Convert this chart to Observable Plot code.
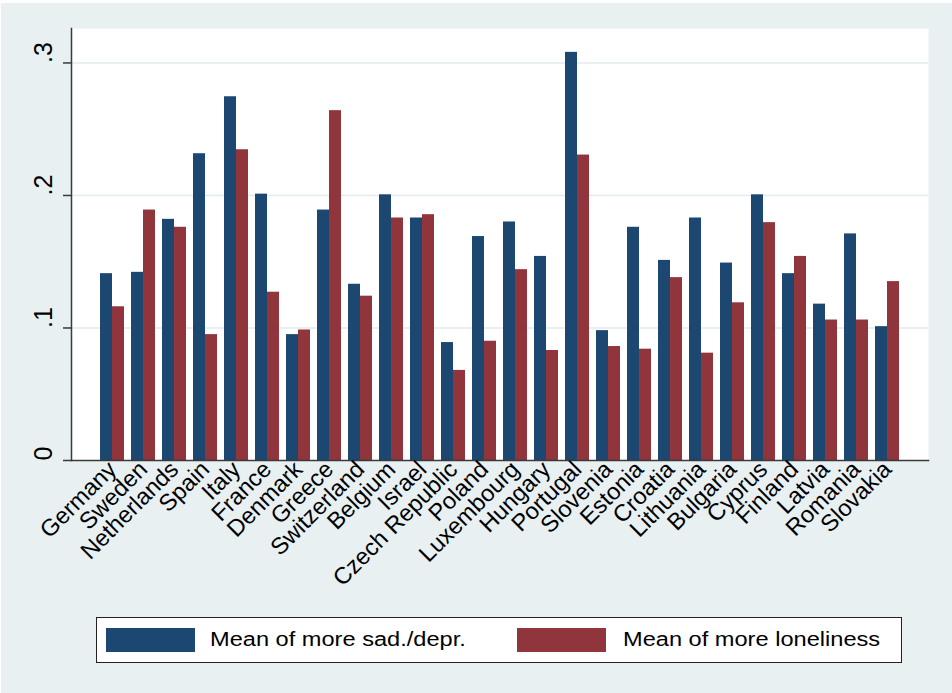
<!DOCTYPE html>
<html>
<head>
<meta charset="utf-8">
<script src="https://cdn.jsdelivr.net/npm/d3@7"></script>
<script src="https://cdn.jsdelivr.net/npm/@observablehq/plot@0.6"></script>
<style>
  html, body { margin: 0; padding: 0; background: #ffffff; }
  #wrap { position: relative; width: 952px; height: 693px; overflow: hidden; background: #ffffff; }
  #bg { position: absolute; left: 1px; top: 3px; right: 0; bottom: 0; background: #e9f0f2; }
  #chart { position: absolute; left: 0; top: 0; }
  #legend { position: absolute; left: 96px; top: 617px; width: 806px; height: 45.5px; box-sizing: border-box;
            border: 1.5px solid #222; background: #ffffff; font-family: "Liberation Sans", Arial, sans-serif; }
  .sw { position: absolute; top: 9.5px; width: 89px; height: 24px; box-sizing: border-box; }
  .lt { position: absolute; top: 0; height: 42px; line-height: 42px; font-size: 20px; color: #000;
        white-space: nowrap; transform: scaleX(1.18); transform-origin: 0 50%; }
</style>
</head>
<body>
<div id="wrap">
  <div id="bg"></div>
  <div id="chart"></div>
  <div id="legend"></div>
</div>
<script>
const countries = ["Germany","Sweden","Netherlands","Spain","Italy","France","Denmark","Greece","Switzerland","Belgium","Israel","Czech Republic","Poland","Luxembourg","Hungary","Portugal","Slovenia","Estonia","Croatia","Lithuania","Bulgaria","Cyprus","Finland","Latvia","Romania","Slovakia"];
const sadDepr = [0.141,0.142,0.182,0.2315,0.2745,0.201,0.095,0.189,0.133,0.2005,0.183,0.089,0.169,0.180,0.154,0.308,0.098,0.176,0.151,0.183,0.149,0.2005,0.141,0.118,0.171,0.101];
const loneliness = [0.116,0.189,0.176,0.095,0.2345,0.127,0.0985,0.264,0.124,0.183,0.1855,0.068,0.090,0.144,0.083,0.2305,0.086,0.084,0.138,0.081,0.119,0.1795,0.154,0.106,0.106,0.135];
const yTicks = [0, 0.1, 0.2, 0.3];
const yTickLabels = ["0", ".1", ".2", ".3"];
const seriesNames = ["Mean of more sad./depr.", "Mean of more loneliness"];
const seriesColors = ["#1b4770", "#90353b"];

const data = countries.map((c, i) => ({country: c, sad: sadDepr[i], lone: loneliness[i]}));

const plot = Plot.plot({
  width: 952,
  height: 612,
  marginLeft: 71,
  marginRight: 24,
  marginTop: 28,
  marginBottom: 152,
  style: {background: "transparent", fontFamily: "'Liberation Sans', Arial, sans-serif", color: "#000"},
  x: {domain: countries, paddingInner: 0.23, paddingOuter: 0.833, label: null},
  y: {domain: [0, 0.326], label: null},
  marks: [
    Plot.frame({fill: "white", stroke: "none"}),
    Plot.gridY(yTicks.slice(1), {stroke: "#e2ebef", strokeOpacity: 1, strokeWidth: 1.5}),
    Plot.barY(data, {x: "country", y: "sad", fill: seriesColors[0], insetRight: 12}),
    Plot.barY(data, {x: "country", y: "lone", fill: seriesColors[1], insetLeft: 12}),
    Plot.frame({anchor: "left", stroke: "#3a3a3a", strokeWidth: 1.5}),
    Plot.frame({anchor: "bottom", stroke: "#3a3a3a", strokeWidth: 1.5}),
    Plot.axisY(yTicks, {tickSize: 8, tickFormat: () => "", label: null, stroke: "#3a3a3a", strokeWidth: 1.5}),
    Plot.text(yTicks, {y: d => d, text: (d, i) => yTickLabels[i], frameAnchor: "left", dx: -28, rotate: -90, fontSize: 25, fill: "#000"}),
    Plot.axisX({tickRotate: -45, tickSize: 0, tickPadding: 5, fontSize: 23.5, fill: "#000", label: null})
  ]
});
document.getElementById("chart").appendChild(plot);

const legend = document.getElementById("legend");
const swLeft = [8.5, 420];
const txLeft = [113, 525.5];
seriesNames.forEach((name, i) => {
  const sw = document.createElement("div");
  sw.className = "sw";
  sw.style.left = swLeft[i] + "px";
  sw.style.background = seriesColors[i];
  legend.appendChild(sw);
  const t = document.createElement("div");
  t.className = "lt";
  t.style.left = txLeft[i] + "px";
  t.textContent = name;
  legend.appendChild(t);
});
</script>
</body>
</html>
